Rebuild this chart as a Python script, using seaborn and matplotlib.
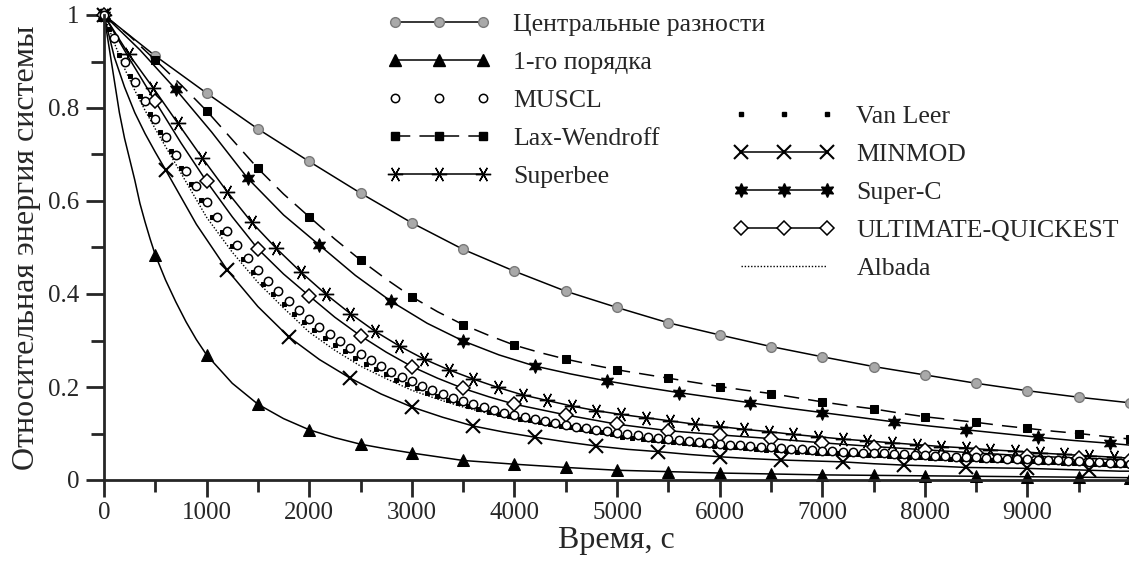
import matplotlib.pyplot as plt
import matplotlib.ticker as mtick
from matplotlib.lines import Line2D
import seaborn as sns

# ---- data (time in s, relative energy) ----
t_central = [0, 500, 1000, 1500, 2000, 2500, 3000, 3500, 4000, 4500, 5000,
             5500, 6000, 6500, 7000, 7500, 8000, 8500, 9000, 9500, 10000]
e_central = [1.0, 0.912, 0.832, 0.755, 0.685, 0.617, 0.553, 0.496, 0.449, 0.406, 0.371,
             0.338, 0.312, 0.287, 0.265, 0.244, 0.226, 0.208, 0.192, 0.178, 0.166]

t_first = [0, 50, 100, 150, 200, 250, 300, 350, 400, 450, 500, 600, 700, 800, 900, 1000,
           1250, 1500, 1750, 2000, 2250, 2500, 2750, 3000, 3500, 4000, 4500, 5000, 5500,
           6000, 6500, 7000, 7500, 8000, 8500, 9000, 9500, 10000]
e_first = [1.0, 0.93, 0.86, 0.79, 0.735, 0.69, 0.645, 0.595, 0.555, 0.518, 0.484, 0.43,
           0.383, 0.34, 0.302, 0.269, 0.208, 0.163, 0.132, 0.108, 0.091, 0.077, 0.067,
           0.058, 0.042, 0.034, 0.027, 0.021, 0.018, 0.015, 0.013, 0.011, 0.010, 0.009,
           0.008, 0.007, 0.006, 0.005]

t_muscl = list(range(0, 10001, 100))
e_muscl = [1.0, 0.950, 0.900, 0.855, 0.815, 0.777, 0.738, 0.700, 0.665, 0.632,
           0.598, 0.566, 0.535, 0.506, 0.478, 0.452, 0.428, 0.406, 0.385, 0.365,
           0.347, 0.330, 0.314, 0.299, 0.284, 0.270, 0.257, 0.245, 0.233, 0.222,
           0.212, 0.202, 0.193, 0.184, 0.176, 0.169, 0.163, 0.157, 0.151, 0.145,
           0.140, 0.136, 0.131, 0.127, 0.123, 0.119, 0.115, 0.112, 0.108, 0.105,
           0.102, 0.099, 0.096, 0.093, 0.091, 0.088, 0.086, 0.084, 0.082, 0.080,
           0.078, 0.076, 0.075, 0.073, 0.071, 0.070, 0.069, 0.067, 0.066, 0.065,
           0.063, 0.062, 0.061, 0.060, 0.059, 0.058, 0.057, 0.056, 0.055, 0.054,
           0.053, 0.052, 0.051, 0.050, 0.050, 0.049, 0.048, 0.047, 0.046, 0.046,
           0.045, 0.044, 0.043, 0.042, 0.041, 0.040, 0.039, 0.038, 0.037, 0.036,
           0.035]

t_lax = list(range(0, 10001, 250))
e_lax = [1.0, 0.955, 0.903, 0.850, 0.794, 0.732, 0.670, 0.615, 0.566, 0.518,
         0.473, 0.432, 0.394, 0.362, 0.334, 0.311, 0.290, 0.274, 0.260, 0.248,
         0.237, 0.228, 0.219, 0.210, 0.201, 0.193, 0.186, 0.177, 0.168, 0.160,
         0.153, 0.144, 0.136, 0.130, 0.124, 0.117, 0.111, 0.105, 0.100, 0.094,
         0.088]

t_superbee = list(range(0, 9841, 240)) + [10000]
e_superbee = [1.0, 0.916, 0.843, 0.767, 0.692, 0.620, 0.554, 0.498, 0.447, 0.400,
              0.358, 0.320, 0.288, 0.260, 0.237, 0.217, 0.199, 0.183, 0.171, 0.159,
              0.149, 0.141, 0.134, 0.127, 0.120, 0.115, 0.109, 0.104, 0.098, 0.093,
              0.088, 0.084, 0.080, 0.076, 0.072, 0.069, 0.065, 0.062, 0.058, 0.055,
              0.052, 0.049, 0.047]

t_vanleer = [0] + list(range(50, 10000, 100))
e_vanleer = [1.0, 0.970, 0.915, 0.868, 0.826, 0.787, 0.748, 0.708, 0.671, 0.636,
             0.602, 0.565, 0.533, 0.503, 0.475, 0.448, 0.422, 0.399, 0.378, 0.358,
             0.339, 0.322, 0.306, 0.291, 0.277, 0.263, 0.250, 0.238, 0.227, 0.216,
             0.206, 0.197, 0.188, 0.180, 0.172, 0.165, 0.159, 0.153, 0.147, 0.142,
             0.137, 0.132, 0.128, 0.124, 0.120, 0.116, 0.113, 0.109, 0.106, 0.103,
             0.100, 0.093, 0.090, 0.088, 0.085, 0.083, 0.081, 0.079, 0.077, 0.075,
             0.073, 0.071, 0.070, 0.068, 0.067, 0.065, 0.064, 0.062, 0.061, 0.060,
             0.059, 0.058, 0.057, 0.056, 0.055, 0.054, 0.053, 0.052, 0.051, 0.050,
             0.049, 0.048, 0.047, 0.046, 0.045, 0.045, 0.044, 0.043, 0.042, 0.042,
             0.041, 0.040, 0.039, 0.038, 0.037, 0.037, 0.036, 0.035, 0.034, 0.033,
             0.032]

t_minmod = [0, 100, 200, 300, 400, 500, 600, 900, 1200, 1500, 1800, 2100, 2400, 2700,
            3000, 3300, 3600, 3900, 4200, 4500, 4800, 5100, 5400, 5700, 6000, 6300,
            6600, 6900, 7200, 7500, 7800, 8100, 8400, 8700, 9000, 9300, 9600, 9900, 10000]
e_minmod = [1.0, 0.91, 0.845, 0.79, 0.745, 0.705, 0.667, 0.55, 0.452, 0.373, 0.308,
            0.259, 0.219, 0.185, 0.157, 0.135, 0.116, 0.103, 0.092, 0.082, 0.073,
            0.066, 0.061, 0.055, 0.050, 0.046, 0.043, 0.041, 0.039, 0.035, 0.032,
            0.030, 0.027, 0.026, 0.025, 0.023, 0.021, 0.019, 0.019]

t_superc = list(range(0, 9801, 350)) + [10000]
e_superc = [1.0, 0.925, 0.840, 0.748, 0.649, 0.570, 0.505, 0.440, 0.384, 0.337,
            0.299, 0.269, 0.245, 0.228, 0.213, 0.200, 0.188, 0.177, 0.166, 0.155,
            0.145, 0.135, 0.125, 0.116, 0.108, 0.100, 0.092, 0.085, 0.079, 0.075]

t_ultimate = [0, 250, 500, 750, 1000, 1250, 1500, 1750, 2000, 2250, 2500, 2750, 3000,
              3250, 3500, 3750, 4000, 4500, 5000, 5500, 6000, 6500, 7000, 7500, 8000,
              8500, 9000, 9500, 10000]
e_ultimate = [1.0, 0.905, 0.814, 0.725, 0.642, 0.566, 0.497, 0.443, 0.396, 0.350,
              0.310, 0.275, 0.244, 0.219, 0.197, 0.179, 0.163, 0.140, 0.120, 0.106,
              0.097, 0.089, 0.080, 0.072, 0.065, 0.058, 0.052, 0.047, 0.043]

t_albada = [0, 100, 200, 300, 400, 500, 750, 1000, 1250, 1500, 1750, 2000, 2250, 2500,
            2750, 3000, 3250, 3500, 3750, 4000, 4500, 5000, 5500, 6000, 6500, 7000,
            7500, 8000, 8500, 9000, 9500, 10000]
e_albada = [1.0, 0.94, 0.885, 0.838, 0.795, 0.755, 0.66, 0.565, 0.49, 0.425, 0.37,
            0.318, 0.279, 0.245, 0.218, 0.193, 0.174, 0.157, 0.143, 0.131, 0.111,
            0.096, 0.083, 0.073, 0.065, 0.058, 0.053, 0.048, 0.044, 0.040, 0.037, 0.034]

labels_left = ['Центральные разности', '1-го порядка', 'MUSCL', 'Lax-Wendroff', 'Superbee']
labels_right = ['Van Leer', 'MINMOD', 'Super-C', 'ULTIMATE-QUICKEST', 'Albada']


def marks(t, step):
    return [i for i, v in enumerate(t) if v % step == 0]


sns.set_style("ticks")
plt.rcParams['font.family'] = ['Liberation Serif', 'DejaVu Serif']

fig = plt.figure(figsize=(11.29, 5.63), dpi=100)
ax = fig.add_axes([104 / 1129, 83 / 563, 1 - 104 / 1129, 465 / 563])

LW = 1.1
star6 = (6, 1, 0)
aster = (6, 2, 90)

styles = {
    'central': dict(color='black', lw=LW, marker='o', ms=7, mfc='#a9a9a9', mec='#7a7a7a', mew=1.0),
    'first': dict(color='black', lw=LW, marker='^', ms=9, mfc='black', mec='black'),
    'muscl': dict(color='black', linestyle='none', marker='o', ms=6, mfc='white', mec='black', mew=1.1),
    'lax': dict(color='black', lw=LW, linestyle=(0, (10, 6)), marker='s', ms=6, mfc='black', mec='black'),
    'superbee': dict(color='black', lw=LW, marker=aster, ms=11, mec='black', mew=1.0),
    'vanleer': dict(color='black', linestyle='none', marker='s', ms=2.8, mfc='black', mec='black'),
    'minmod': dict(color='black', lw=LW, marker='x', ms=10, mec='black', mew=1.5),
    'superc': dict(color='black', lw=LW, marker=star6, ms=10, mfc='black', mec='black'),
    'ultimate': dict(color='black', lw=LW, marker='D', ms=7.5, mfc='white', mec='black', mew=1.1),
    'albada': dict(color='black', lw=1.0, linestyle=(0, (1, 1.3))),
}

series = [
    ('central', t_central, e_central, 500),
    ('first', t_first, e_first, 500),
    ('lax', t_lax, e_lax, 500),
    ('superc', t_superc, e_superc, 700),
    ('superbee', t_superbee, e_superbee, 240),
    ('ultimate', t_ultimate, e_ultimate, 500),
    ('minmod', t_minmod, e_minmod, 600),
    ('albada', t_albada, e_albada, None),
    ('vanleer', t_vanleer, e_vanleer, None),
    ('muscl', t_muscl, e_muscl, None),
]

for key, t, e, step in series:
    kw = dict(styles[key])
    if step is not None:
        kw['markevery'] = marks(t, step)
    sns.lineplot(x=t, y=e, ax=ax, sort=False, errorbar=None, clip_on=False, **kw)

ax.set_xlim(0, 9990)
ax.set_ylim(0, 1)
ax.xaxis.set_major_locator(mtick.MultipleLocator(1000))
ax.xaxis.set_minor_locator(mtick.MultipleLocator(500))
ax.yaxis.set_major_locator(mtick.MultipleLocator(0.2))
ax.yaxis.set_minor_locator(mtick.MultipleLocator(0.1))
ax.yaxis.set_major_formatter(mtick.FuncFormatter(lambda v, p: '%g' % round(v, 2)))

for s in ['top', 'right']:
    ax.spines[s].set_visible(False)
for s in ['left', 'bottom']:
    ax.spines[s].set_linewidth(2.0)

ax.tick_params(axis='x', which='major', length=12, width=2, labelsize=18, pad=4)
ax.tick_params(axis='x', which='minor', length=8.5, width=2)
ax.tick_params(axis='y', which='major', length=13, width=2, labelsize=18, pad=5)
ax.tick_params(axis='y', which='minor', length=9.5, width=2)

ax.set_xlabel('Время, с', fontsize=23, labelpad=1)
ax.set_ylabel('Относительная энергия системы', fontsize=23, labelpad=5)

order_left = ['central', 'first', 'muscl', 'lax', 'superbee']
order_right = ['vanleer', 'minmod', 'superc', 'ultimate', 'albada']


def proxies(keys):
    out = []
    for k in keys:
        kw = dict(styles[k])
        out.append(Line2D([], [], **kw))
    return out


common = dict(frameon=False, numpoints=3, borderpad=0, borderaxespad=0,
              handletextpad=0.85, labelspacing=0.58, fontsize=18.5,
              loc='upper left', bbox_transform=fig.transFigure)
leg1 = ax.legend(proxies(order_left), labels_left, handlelength=4.05,
                 bbox_to_anchor=(387 / 1129, 1 - 13 / 563), **common)
ax.add_artist(leg1)
leg2 = ax.legend(proxies(order_right), labels_right, handlelength=3.95,
                 bbox_to_anchor=(733 / 1129, 1 - 105 / 563), **common)

fig.savefig('out.png', dpi=100)
